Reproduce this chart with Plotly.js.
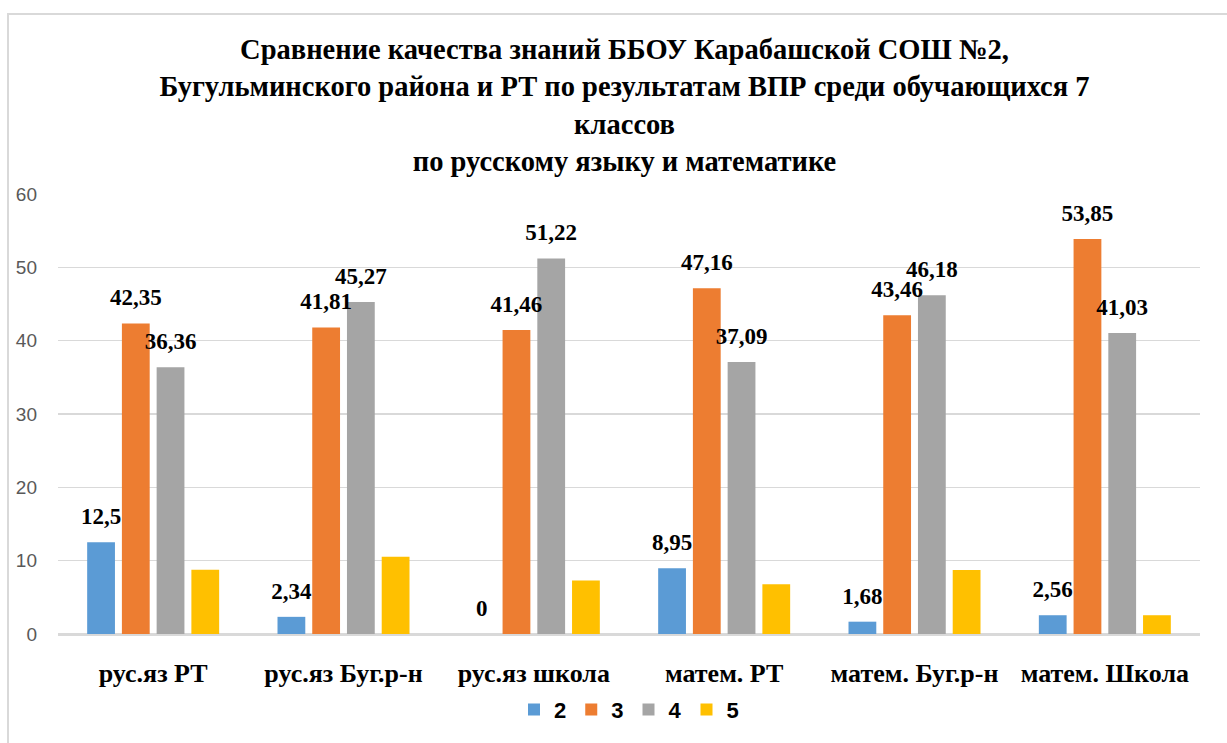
<!DOCTYPE html>
<html>
<head>
<meta charset="utf-8">
<script src="https://cdn.plot.ly/plotly-3.0.1.min.js"></script>
<style>
html,body{margin:0;padding:0;background:#fff;overflow:hidden;}
#chart{width:1227px;height:743px;position:absolute;left:0;top:0;}
#frame{position:absolute;left:7px;top:13px;width:1400px;height:900px;border-left:2px solid #d9d9d9;border-top:2px solid #d9d9d9;pointer-events:none;}
</style>
</head>
<body>
<div id="chart"></div>
<div id="frame"></div>
<script>
const categories = ['рус.яз РТ', 'рус.яз Буг.р-н', 'рус.яз школа', 'матем. РТ', 'матем. Буг.р-н', 'матем. Школа'];
const seriesNames = ['2', '3', '4', '5'];
const grade2 = [12.5, 2.34, 0, 8.95, 1.68, 2.56];
const grade3 = [42.35, 41.81, 41.46, 47.16, 43.46, 53.85];
const grade4 = [36.36, 45.27, 51.22, 37.09, 46.18, 41.03];
const grade5 = [8.77, 10.55, 7.31, 6.77, 8.73, 2.56];
const showLabels = [true, true, true, false];
const colors = ['#5B9BD5', '#ED7D31', '#A5A5A5', '#FFC000'];

const series = [grade2, grade3, grade4, grade5];
const fmt = v => String(v).replace('.', ',');
const SERIF = '"Liberation Serif", serif';
const SANS = '"Liberation Sans", sans-serif';

const traces = [];
series.forEach((vals, i) => {
  traces.push({
    type: 'bar', name: seriesNames[i], x: categories, y: vals,
    marker: {color: colors[i]}, offsetgroup: 'g' + i, alignmentgroup: 'a',
    hoverinfo: 'skip'
  });
});
series.forEach((vals, i) => {
  traces.push({
    type: 'scatter', mode: 'markers+text', x: categories, y: vals,
    text: showLabels[i] ? vals.map(fmt) : vals.map(() => ''),
    textposition: 'top center',
    textfont: {family: SERIF, size: 23, color: '#000', weight: 'bold'},
    marker: {size: 18, opacity: 0},
    offsetgroup: 'g' + i, alignmentgroup: 'a',
    showlegend: false, hoverinfo: 'skip', cliponaxis: false
  });
});

const layout = {
  width: 1227, height: 743,
  margin: {l: 58, r: 27, t: 194, b: 107},
  paper_bgcolor: '#fff', plot_bgcolor: '#fff',
  barmode: 'group', bargap: 0.27, bargroupgap: 0.2,
  scattermode: 'group', scattergap: 0.27,
  title: {
    text: 'Сравнение качества знаний ББОУ Карабашской СОШ №2,<br>Бугульминского района и РТ по результатам ВПР среди обучающихся 7<br>классов<br>по русскому языку и математике',
    font: {family: SERIF, size: 28.5, color: '#000', weight: 'bold'},
    x: 0.509, xanchor: 'center', xref: 'container',
    y: 0.92, yanchor: 'top', yref: 'container'
  },
  xaxis: {
    type: 'category', showgrid: false, showline: true, linecolor: '#d9d9d9', linewidth: 1.5,
    ticks: '', ticklabelstandoff: 15,
    tickfont: {family: SERIF, size: 26, color: '#000', weight: 'bold'}
  },
  yaxis: {
    range: [0, 60], dtick: 10, showgrid: true, gridcolor: '#d9d9d9', gridwidth: 1.5,
    zeroline: true, zerolinecolor: '#d9d9d9', zerolinewidth: 1.5, showline: false,
    ticks: '', ticklabelstandoff: 20,
    tickfont: {family: SANS, size: 19, color: '#595959'}
  },
  legend: {
    orientation: 'h', x: 0.5, xanchor: 'center', y: -0.172, yanchor: 'middle',
    font: {family: SANS, size: 22, color: '#000', weight: 'bold'},
    itemwidth: 30, traceorder: 'normal'
  },
  showlegend: true
};

Plotly.newPlot('chart', traces, layout, {displayModeBar: false, staticPlot: true});
</script>
</body>
</html>
